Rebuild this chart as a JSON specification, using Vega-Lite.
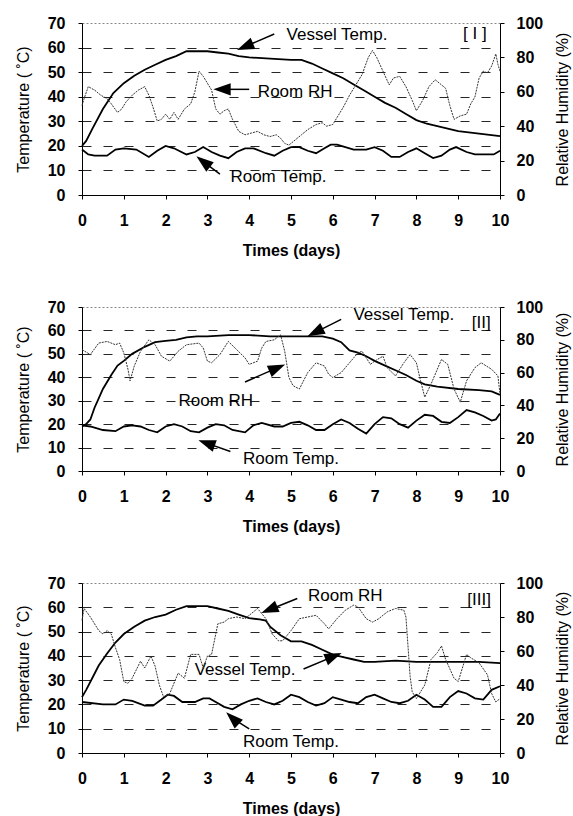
{
"$schema":"https://vega.github.io/schema/vega-lite/v6.json",
"padding":{"left":14,"top":14,"right":0,"bottom":0},
"spacing":39,
"datasets":{
"p1v":[{"d":0,"v":20},{"d":0.1,"v":22},{"d":0.25,"v":27},{"d":0.5,"v":35},{"d":0.75,"v":41.5},{"d":1,"v":45.5},{"d":1.25,"v":48.5},{"d":1.5,"v":51},{"d":1.75,"v":53},{"d":2,"v":55},{"d":2.25,"v":56.5},{"d":2.5,"v":58.5},{"d":2.75,"v":58.5},{"d":3,"v":58.5},{"d":3.25,"v":58},{"d":3.5,"v":57.5},{"d":3.75,"v":56.5},{"d":4,"v":56},{"d":4.5,"v":55.5},{"d":5,"v":55},{"d":5.25,"v":55},{"d":5.5,"v":53.5},{"d":5.75,"v":51.5},{"d":6,"v":49.5},{"d":6.25,"v":47.5},{"d":6.5,"v":45},{"d":6.75,"v":42.5},{"d":7,"v":40},{"d":7.25,"v":37.5},{"d":7.5,"v":35.5},{"d":7.75,"v":33},{"d":8,"v":30.5},{"d":8.25,"v":29},{"d":8.5,"v":28},{"d":8.75,"v":27},{"d":9,"v":26},{"d":9.25,"v":25.5},{"d":9.5,"v":25},{"d":9.75,"v":24.5},{"d":10,"v":24}],
"p1t":[{"d":0,"v":18.5},{"d":0.15,"v":16.5},{"d":0.3,"v":16},{"d":0.6,"v":16},{"d":0.8,"v":18.5},{"d":1,"v":19},{"d":1.3,"v":18.5},{"d":1.6,"v":15.5},{"d":1.8,"v":18},{"d":2,"v":20},{"d":2.2,"v":19},{"d":2.5,"v":16.5},{"d":2.7,"v":17.5},{"d":2.9,"v":19.5},{"d":3.1,"v":17.5},{"d":3.3,"v":16},{"d":3.5,"v":15},{"d":3.7,"v":17.5},{"d":3.9,"v":19},{"d":4.1,"v":19},{"d":4.4,"v":17},{"d":4.6,"v":16},{"d":4.8,"v":18},{"d":5,"v":19.5},{"d":5.2,"v":19.5},{"d":5.4,"v":18},{"d":5.6,"v":17},{"d":5.8,"v":19},{"d":5.95,"v":20.5},{"d":6.1,"v":20.5},{"d":6.3,"v":19.5},{"d":6.5,"v":18.5},{"d":6.8,"v":18.5},{"d":7,"v":19.5},{"d":7.2,"v":18},{"d":7.4,"v":15.5},{"d":7.6,"v":15.5},{"d":7.8,"v":17.5},{"d":8,"v":19},{"d":8.2,"v":17},{"d":8.4,"v":15},{"d":8.6,"v":16},{"d":8.8,"v":18.5},{"d":8.95,"v":19.5},{"d":9.2,"v":17.5},{"d":9.4,"v":16.5},{"d":9.6,"v":16.5},{"d":9.85,"v":16.5},{"d":10,"v":18}],
"p1h":[{"d":0,"v":52},{"d":0.05,"v":56},{"d":0.15,"v":63},{"d":0.3,"v":61},{"d":0.45,"v":58},{"d":0.6,"v":56},{"d":0.7,"v":53},{"d":0.85,"v":48},{"d":0.95,"v":50},{"d":1.05,"v":54},{"d":1.2,"v":58},{"d":1.35,"v":61},{"d":1.5,"v":63},{"d":1.6,"v":58},{"d":1.7,"v":51},{"d":1.8,"v":43},{"d":1.9,"v":44},{"d":2,"v":47},{"d":2.1,"v":44},{"d":2.2,"v":48},{"d":2.3,"v":44},{"d":2.45,"v":50},{"d":2.6,"v":53},{"d":2.7,"v":60},{"d":2.8,"v":72},{"d":2.9,"v":69},{"d":3,"v":65},{"d":3.1,"v":61},{"d":3.2,"v":50},{"d":3.3,"v":47},{"d":3.4,"v":49},{"d":3.5,"v":50},{"d":3.6,"v":44},{"d":3.75,"v":37},{"d":3.9,"v":35},{"d":4.05,"v":36},{"d":4.2,"v":37},{"d":4.35,"v":35},{"d":4.5,"v":34},{"d":4.65,"v":35},{"d":4.75,"v":33},{"d":4.85,"v":30},{"d":4.95,"v":29},{"d":5.1,"v":32},{"d":5.25,"v":35},{"d":5.4,"v":38},{"d":5.6,"v":41},{"d":5.75,"v":42},{"d":5.85,"v":40},{"d":6,"v":41},{"d":6.1,"v":45},{"d":6.25,"v":51},{"d":6.4,"v":58},{"d":6.55,"v":64},{"d":6.7,"v":70},{"d":6.85,"v":80},{"d":6.95,"v":84},{"d":7.05,"v":80},{"d":7.2,"v":72},{"d":7.35,"v":64},{"d":7.45,"v":68},{"d":7.6,"v":69},{"d":7.75,"v":63},{"d":7.9,"v":55},{"d":8,"v":49},{"d":8.15,"v":55},{"d":8.3,"v":63},{"d":8.45,"v":67},{"d":8.6,"v":64},{"d":8.7,"v":62},{"d":8.8,"v":52},{"d":8.9,"v":44},{"d":9.05,"v":46},{"d":9.2,"v":47},{"d":9.3,"v":53},{"d":9.4,"v":57},{"d":9.5,"v":68},{"d":9.6,"v":72},{"d":9.7,"v":71},{"d":9.8,"v":75},{"d":9.9,"v":82},{"d":9.95,"v":76},{"d":10,"v":72}],
"p2v":[{"d":0,"v":19},{"d":0.1,"v":20},{"d":0.2,"v":22},{"d":0.3,"v":27},{"d":0.4,"v":31},{"d":0.5,"v":35},{"d":0.7,"v":41},{"d":0.85,"v":45},{"d":1,"v":47},{"d":1.2,"v":50},{"d":1.5,"v":53},{"d":1.75,"v":55},{"d":2,"v":55.5},{"d":2.25,"v":56},{"d":2.5,"v":57},{"d":2.75,"v":57.5},{"d":3,"v":57.5},{"d":3.5,"v":58},{"d":4,"v":58},{"d":4.5,"v":57.5},{"d":5,"v":57.5},{"d":5.5,"v":57.5},{"d":5.75,"v":57.5},{"d":6,"v":56.5},{"d":6.2,"v":55},{"d":6.4,"v":51.5},{"d":6.6,"v":50.5},{"d":6.8,"v":49},{"d":7,"v":47},{"d":7.25,"v":45},{"d":7.5,"v":43},{"d":7.75,"v":41},{"d":8,"v":38.5},{"d":8.2,"v":37},{"d":8.5,"v":36},{"d":9,"v":35},{"d":9.5,"v":34.5},{"d":9.8,"v":34},{"d":10,"v":32.5}],
"p2t":[{"d":0,"v":19.5},{"d":0.2,"v":19},{"d":0.5,"v":17.5},{"d":0.8,"v":17},{"d":1,"v":19},{"d":1.2,"v":19.5},{"d":1.4,"v":19},{"d":1.6,"v":17.5},{"d":1.8,"v":16.5},{"d":2,"v":19},{"d":2.2,"v":20},{"d":2.4,"v":19},{"d":2.6,"v":17},{"d":2.8,"v":16.5},{"d":3,"v":18.5},{"d":3.2,"v":20},{"d":3.4,"v":19.5},{"d":3.6,"v":17.5},{"d":3.9,"v":16.5},{"d":4.1,"v":19.5},{"d":4.3,"v":20.5},{"d":4.6,"v":19},{"d":4.8,"v":19},{"d":5,"v":20.5},{"d":5.2,"v":21},{"d":5.4,"v":19.5},{"d":5.6,"v":17.5},{"d":5.8,"v":17.5},{"d":6,"v":20},{"d":6.2,"v":22},{"d":6.4,"v":20.5},{"d":6.6,"v":18},{"d":6.8,"v":16},{"d":7,"v":20},{"d":7.2,"v":23},{"d":7.4,"v":22.5},{"d":7.6,"v":20},{"d":7.8,"v":18.5},{"d":8,"v":21.5},{"d":8.2,"v":24},{"d":8.4,"v":23.5},{"d":8.6,"v":21},{"d":8.8,"v":20.5},{"d":9,"v":23},{"d":9.2,"v":26},{"d":9.4,"v":25},{"d":9.6,"v":23.5},{"d":9.8,"v":21.5},{"d":9.9,"v":22},{"d":10,"v":24.5}],
"p2h":[{"d":0,"v":74},{"d":0.2,"v":71},{"d":0.4,"v":78},{"d":0.6,"v":79},{"d":0.8,"v":77},{"d":0.9,"v":78},{"d":1,"v":72},{"d":1.1,"v":62},{"d":1.15,"v":55},{"d":1.25,"v":64},{"d":1.4,"v":73},{"d":1.6,"v":80},{"d":1.75,"v":77},{"d":1.9,"v":70},{"d":2.1,"v":67},{"d":2.3,"v":73},{"d":2.5,"v":77},{"d":2.8,"v":78},{"d":2.9,"v":75},{"d":3,"v":67},{"d":3.1,"v":66},{"d":3.3,"v":71},{"d":3.5,"v":79},{"d":3.7,"v":74},{"d":3.9,"v":69},{"d":4,"v":65},{"d":4.2,"v":67},{"d":4.3,"v":75},{"d":4.4,"v":79},{"d":4.6,"v":80},{"d":4.75,"v":83},{"d":4.85,"v":73},{"d":4.95,"v":57},{"d":5.05,"v":52},{"d":5.2,"v":50},{"d":5.4,"v":60},{"d":5.6,"v":66},{"d":5.8,"v":64},{"d":5.9,"v":59},{"d":6,"v":57},{"d":6.2,"v":60},{"d":6.4,"v":66},{"d":6.6,"v":72},{"d":6.7,"v":73},{"d":6.9,"v":65},{"d":7,"v":67},{"d":7.2,"v":70},{"d":7.3,"v":63},{"d":7.5,"v":58},{"d":7.7,"v":66},{"d":7.85,"v":71},{"d":8,"v":66},{"d":8.1,"v":55},{"d":8.2,"v":45},{"d":8.35,"v":53},{"d":8.6,"v":68},{"d":8.75,"v":65},{"d":8.9,"v":50},{"d":9.05,"v":42},{"d":9.2,"v":55},{"d":9.4,"v":63},{"d":9.55,"v":66},{"d":9.8,"v":62},{"d":9.95,"v":58},{"d":10,"v":47}],
"p3v":[{"d":0,"v":23},{"d":0.1,"v":26},{"d":0.25,"v":31},{"d":0.4,"v":36},{"d":0.6,"v":41},{"d":0.8,"v":45.5},{"d":1,"v":49},{"d":1.25,"v":52},{"d":1.5,"v":54.5},{"d":1.75,"v":56},{"d":2,"v":57},{"d":2.25,"v":59},{"d":2.5,"v":60.5},{"d":2.75,"v":60.5},{"d":3,"v":60.5},{"d":3.25,"v":59.5},{"d":3.5,"v":58.5},{"d":3.75,"v":57},{"d":4,"v":55.5},{"d":4.25,"v":55},{"d":4.4,"v":54.5},{"d":4.5,"v":52},{"d":4.75,"v":48.5},{"d":5,"v":46},{"d":5.25,"v":46},{"d":5.5,"v":44.5},{"d":5.75,"v":42.5},{"d":6,"v":40.5},{"d":6.25,"v":39.5},{"d":6.5,"v":38.5},{"d":6.75,"v":37.5},{"d":7,"v":37.5},{"d":7.5,"v":38},{"d":8,"v":37.5},{"d":8.5,"v":37.5},{"d":9,"v":37.5},{"d":9.5,"v":37.5},{"d":10,"v":37}],
"p3t":[{"d":0,"v":21},{"d":0.5,"v":20},{"d":0.8,"v":20},{"d":1,"v":22},{"d":1.2,"v":21.5},{"d":1.5,"v":19.5},{"d":1.7,"v":19.5},{"d":1.9,"v":22},{"d":2.05,"v":24},{"d":2.2,"v":23.5},{"d":2.4,"v":21},{"d":2.7,"v":21},{"d":2.9,"v":22.5},{"d":3.05,"v":22.5},{"d":3.2,"v":21},{"d":3.4,"v":19},{"d":3.6,"v":18},{"d":3.8,"v":20},{"d":4,"v":21.5},{"d":4.2,"v":22.5},{"d":4.4,"v":21},{"d":4.6,"v":20},{"d":4.8,"v":21.5},{"d":5,"v":24},{"d":5.2,"v":23},{"d":5.4,"v":21},{"d":5.6,"v":19.5},{"d":5.8,"v":20.5},{"d":6,"v":23},{"d":6.2,"v":22},{"d":6.4,"v":21},{"d":6.6,"v":20.5},{"d":6.8,"v":23},{"d":7,"v":24},{"d":7.2,"v":22.5},{"d":7.4,"v":21},{"d":7.6,"v":20.5},{"d":7.8,"v":21.5},{"d":8,"v":24},{"d":8.2,"v":22},{"d":8.4,"v":19},{"d":8.6,"v":19},{"d":8.8,"v":23},{"d":9,"v":25.5},{"d":9.2,"v":24.5},{"d":9.4,"v":22.5},{"d":9.6,"v":22},{"d":9.8,"v":26},{"d":10,"v":27.5}],
"p3h":[{"d":0,"v":78},{"d":0.05,"v":85},{"d":0.2,"v":80},{"d":0.4,"v":72},{"d":0.5,"v":70},{"d":0.6,"v":72},{"d":0.7,"v":70},{"d":0.8,"v":62},{"d":0.9,"v":55},{"d":1,"v":42},{"d":1.1,"v":41},{"d":1.2,"v":44},{"d":1.4,"v":54},{"d":1.5,"v":50},{"d":1.65,"v":57},{"d":1.75,"v":51},{"d":1.85,"v":40},{"d":1.95,"v":33},{"d":2.1,"v":35},{"d":2.3,"v":47},{"d":2.45,"v":44},{"d":2.6,"v":58},{"d":2.8,"v":58},{"d":2.9,"v":50},{"d":3,"v":57},{"d":3.1,"v":58},{"d":3.25,"v":76},{"d":3.4,"v":77},{"d":3.5,"v":79},{"d":3.7,"v":80},{"d":3.9,"v":79},{"d":4.1,"v":83},{"d":4.2,"v":85},{"d":4.4,"v":79},{"d":4.55,"v":70},{"d":4.7,"v":66},{"d":4.8,"v":66},{"d":5,"v":72},{"d":5.2,"v":79},{"d":5.4,"v":80},{"d":5.6,"v":81},{"d":5.8,"v":76},{"d":5.9,"v":73},{"d":6.1,"v":79},{"d":6.3,"v":84},{"d":6.5,"v":87},{"d":6.6,"v":86},{"d":6.8,"v":79},{"d":6.95,"v":77},{"d":7.1,"v":79},{"d":7.3,"v":83},{"d":7.5,"v":85},{"d":7.7,"v":84},{"d":7.75,"v":80},{"d":7.85,"v":45},{"d":7.9,"v":36},{"d":8,"v":32},{"d":8.2,"v":40},{"d":8.35,"v":55},{"d":8.5,"v":59},{"d":8.6,"v":63},{"d":8.7,"v":55},{"d":8.9,"v":44},{"d":9,"v":42},{"d":9.2,"v":58},{"d":9.3,"v":56},{"d":9.5,"v":53},{"d":9.7,"v":46},{"d":9.8,"v":35},{"d":9.9,"v":30},{"d":10,"v":32}],
"a1":[{"id":"A1","d":3.9,"v":60.4,"d2":4.6,"v2":65.5},{"id":"A2","d":3.35,"v":43,"d2":4.0,"v2":43},{"id":"A3","d":2.9,"v":13.6,"d2":3.3,"v2":8.5}],
"a2":[{"id":"B1","d":5.58,"v":59.2,"d2":6.2,"v2":64.7},{"id":"B2","d":4.67,"v":44,"d2":3.9,"v2":38},{"id":"B3","d":2.98,"v":11.9,"d2":3.55,"v2":8.3}],
"a3":[{"id":"C1","d":4.48,"v":59,"d2":5.15,"v2":63.6},{"id":"C2","d":6.02,"v":39.8,"d2":5.3,"v2":34.6},{"id":"C3","d":3.6,"v":14.3,"d2":4.0,"v2":9.9}],
"l1":[{"d":6.1,"v":65,"label":"Vessel Temp."},{"d":5.1,"v":42,"label":"Room RH"},{"d":4.7,"v":7.4,"label":"Room Temp."},{"d":9.4,"v":65.5,"label":"[ I ]"}],
"l2":[{"d":7.7,"v":66.5,"label":"Vessel Temp."},{"d":9.55,"v":63,"label":"[II]"},{"d":3.2,"v":30,"label":"Room RH"},{"d":5.0,"v":5.3,"label":"Room Temp."}],
"l3":[{"d":6.3,"v":64.5,"label":"Room RH"},{"d":9.5,"v":63,"label":"[III]"},{"d":3.9,"v":34,"label":"Vessel Temp."},{"d":5.0,"v":4.7,"label":"Room Temp."}]
},
"vconcat":[
{"width":418,"height":172,
 "layer":[
  {"encoding":{"x":{"field":"d","type":"quantitative","scale":{"domain":[0,10]},"axis":{"values":[0,1,2,3,4,5,6,7,8,9,10],"title":"Times (days)","labelFlush":false,"labelOverlap":false,"labelPadding":13,"titlePadding":14,"titleFontWeight":"bold"}},
     "y":{"field":"v","type":"quantitative","scale":{"domain":[0,70]},"axis":{"values":[0,10,20,30,40,50,60,70],"labelOverlap":false,"title":"Temperature ( ˚C)","labelPadding":13,"titlePadding":16,"grid":true,"gridColor":"black","gridDash":[9,12],"gridWidth":1,"gridOpacity":{"condition":{"test":"datum.value===0||datum.value===70","value":0},"value":0.85}}}},
   "layer":[
   {"data":{"name":"p1v"},"mark":{"type":"line","color":"black","strokeWidth":1.8}},
   {"data":{"name":"p1t"},"mark":{"type":"line","color":"black","strokeWidth":1.8}},
   {"data":{"name":"a1"},"mark":{"type":"rule","color":"black","strokeWidth":1.5},"encoding":{"x2":{"field":"d2"},"y2":{"field":"v2"}}},
   {"data":{"name":"a1"},"transform":[{"filter":"datum.id==='A1'"}],"mark":{"type":"point","shape":"M0,-1L0.7,1L-0.7,1Z","filled":true,"color":"black","opacity":1,"size":300,"angle":247.5}},
   {"data":{"name":"a1"},"transform":[{"filter":"datum.id==='A2'"}],"mark":{"type":"point","shape":"M0,-1L0.7,1L-0.7,1Z","filled":true,"color":"black","opacity":1,"size":300,"angle":270}},
   {"data":{"name":"a1"},"transform":[{"filter":"datum.id==='A3'"}],"mark":{"type":"point","shape":"M0,-1L0.7,1L-0.7,1Z","filled":true,"color":"black","opacity":1,"size":300,"angle":308}},
   {"data":{"name":"l1"},"mark":{"type":"text","font":"Liberation Sans","fontSize":17,"color":"black","align":"center","baseline":"middle"},"encoding":{"text":{"field":"label"}}}
  ]},
  {"data":{"name":"p1h"},"mark":{"type":"line","color":"#333","strokeWidth":1,"strokeDash":[2,1]},
   "encoding":{"x":{"field":"d","type":"quantitative","scale":{"domain":[0,10]},"axis":{"values":[0,1,2,3,4,5,6,7,8,9,10],"title":"Times (days)","labelFlush":false,"labelOverlap":false,"labelPadding":13,"titlePadding":14,"titleFontWeight":"bold"}},"y":{"field":"v","type":"quantitative","scale":{"domain":[0,100]},"axis":{"orient":"right","values":[0,20,40,60,80,100],"labelOverlap":false,"title":"Relative Humidity (%)","titleAngle":270,"labelPadding":12,"titlePadding":28}}}}
 ],
 "resolve":{"scale":{"y":"independent"},"axis":{"y":"independent"}}
},
{"width":418,"height":164,
 "layer":[
  {"encoding":{"x":{"field":"d","type":"quantitative","scale":{"domain":[0,10]},"axis":{"values":[0,1,2,3,4,5,6,7,8,9,10],"title":"Times (days)","labelFlush":false,"labelOverlap":false,"labelPadding":13,"titlePadding":14,"titleFontWeight":"bold"}},
     "y":{"field":"v","type":"quantitative","scale":{"domain":[0,70]},"axis":{"values":[0,10,20,30,40,50,60,70],"labelOverlap":false,"title":"Temperature ( ˚C)","labelPadding":13,"titlePadding":16,"grid":true,"gridColor":"black","gridDash":[9,12],"gridWidth":1,"gridOpacity":{"condition":{"test":"datum.value===0||datum.value===70","value":0},"value":0.85}}}},
   "layer":[
   {"data":{"name":"p2v"},"mark":{"type":"line","color":"black","strokeWidth":1.8}},
   {"data":{"name":"p2t"},"mark":{"type":"line","color":"black","strokeWidth":1.8}},
   {"data":{"name":"a2"},"mark":{"type":"rule","color":"black","strokeWidth":1.5},"encoding":{"x2":{"field":"d2"},"y2":{"field":"v2"}}},
   {"data":{"name":"a2"},"transform":[{"filter":"datum.id==='B1'"}],"mark":{"type":"point","shape":"M0,-1L0.7,1L-0.7,1Z","filled":true,"color":"black","opacity":1,"size":300,"angle":243.4}},
   {"data":{"name":"a2"},"transform":[{"filter":"datum.id==='B2'"}],"mark":{"type":"point","shape":"M0,-1L0.7,1L-0.7,1Z","filled":true,"color":"black","opacity":1,"size":300,"angle":66.4}},
   {"data":{"name":"a2"},"transform":[{"filter":"datum.id==='B3'"}],"mark":{"type":"point","shape":"M0,-1L0.7,1L-0.7,1Z","filled":true,"color":"black","opacity":1,"size":300,"angle":289.7}},
   {"data":{"name":"l2"},"mark":{"type":"text","font":"Liberation Sans","fontSize":17,"color":"black","align":"center","baseline":"middle"},"encoding":{"text":{"field":"label"}}}
  ]},
  {"data":{"name":"p2h"},"mark":{"type":"line","color":"#333","strokeWidth":1,"strokeDash":[2,1]},
   "encoding":{"x":{"field":"d","type":"quantitative","scale":{"domain":[0,10]},"axis":{"values":[0,1,2,3,4,5,6,7,8,9,10],"title":"Times (days)","labelFlush":false,"labelOverlap":false,"labelPadding":13,"titlePadding":14,"titleFontWeight":"bold"}},"y":{"field":"v","type":"quantitative","scale":{"domain":[0,100]},"axis":{"orient":"right","values":[0,20,40,60,80,100],"labelOverlap":false,"title":"Relative Humidity (%)","titleAngle":270,"labelPadding":12,"titlePadding":28}}}}
 ],
 "resolve":{"scale":{"y":"independent"},"axis":{"y":"independent"}}
},
{"width":418,"height":170,
 "layer":[
  {"encoding":{"x":{"field":"d","type":"quantitative","scale":{"domain":[0,10]},"axis":{"values":[0,1,2,3,4,5,6,7,8,9,10],"title":"Times (days)","labelFlush":false,"labelOverlap":false,"labelPadding":13,"titlePadding":14,"titleFontWeight":"bold"}},
     "y":{"field":"v","type":"quantitative","scale":{"domain":[0,70]},"axis":{"values":[0,10,20,30,40,50,60,70],"labelOverlap":false,"title":"Temperature ( ˚C)","labelPadding":13,"titlePadding":16,"grid":true,"gridColor":"black","gridDash":[9,12],"gridWidth":1,"gridOpacity":{"condition":{"test":"datum.value===0||datum.value===70","value":0},"value":0.85}}}},
   "layer":[
   {"data":{"name":"p3v"},"mark":{"type":"line","color":"black","strokeWidth":1.8}},
   {"data":{"name":"p3t"},"mark":{"type":"line","color":"black","strokeWidth":1.8}},
   {"data":{"name":"a3"},"mark":{"type":"rule","color":"black","strokeWidth":1.5},"encoding":{"x2":{"field":"d2"},"y2":{"field":"v2"}}},
   {"data":{"name":"a3"},"transform":[{"filter":"datum.id==='C1'"}],"mark":{"type":"point","shape":"M0,-1L0.7,1L-0.7,1Z","filled":true,"color":"black","opacity":1,"size":300,"angle":247.8}},
   {"data":{"name":"a3"},"transform":[{"filter":"datum.id==='C2'"}],"mark":{"type":"point","shape":"M0,-1L0.7,1L-0.7,1Z","filled":true,"color":"black","opacity":1,"size":300,"angle":67.4}},
   {"data":{"name":"a3"},"transform":[{"filter":"datum.id==='C3'"}],"mark":{"type":"point","shape":"M0,-1L0.7,1L-0.7,1Z","filled":true,"color":"black","opacity":1,"size":300,"angle":313.3}},
   {"data":{"name":"l3"},"mark":{"type":"text","font":"Liberation Sans","fontSize":17,"color":"black","align":"center","baseline":"middle"},"encoding":{"text":{"field":"label"}}}
  ]},
  {"data":{"name":"p3h"},"mark":{"type":"line","color":"#333","strokeWidth":1,"strokeDash":[2,1]},
   "encoding":{"x":{"field":"d","type":"quantitative","scale":{"domain":[0,10]},"axis":{"values":[0,1,2,3,4,5,6,7,8,9,10],"title":"Times (days)","labelFlush":false,"labelOverlap":false,"labelPadding":13,"titlePadding":14,"titleFontWeight":"bold"}},"y":{"field":"v","type":"quantitative","scale":{"domain":[0,100]},"axis":{"orient":"right","values":[0,20,40,60,80,100],"labelOverlap":false,"title":"Relative Humidity (%)","titleAngle":270,"labelPadding":12,"titlePadding":28}}}}
 ],
 "resolve":{"scale":{"y":"independent"},"axis":{"y":"independent"}}
}
],
"config":{
 "font":"Liberation Sans",
 "view":{"stroke":"#888","strokeDash":[2,2],"strokeWidth":1},
 "axis":{"labelFont":"Liberation Sans","labelFontSize":16,"labelFontWeight":"bold","labelColor":"black","titleFont":"Liberation Sans","titleFontSize":16,"titleFontWeight":"normal","titleColor":"black","domainColor":"black","domainWidth":1,"tickColor":"black","tickSize":4,"grid":false}
}
}
